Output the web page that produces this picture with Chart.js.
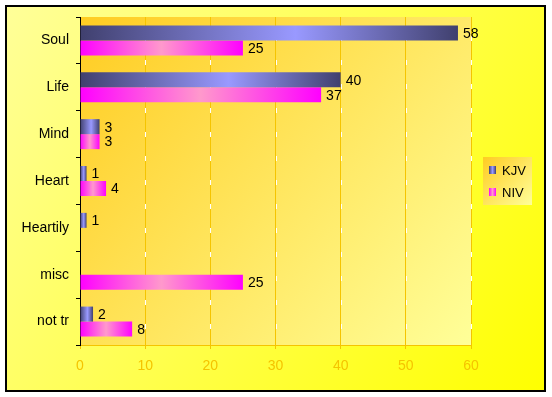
<!DOCTYPE html>
<html>
<head>
<meta charset="utf-8">
<script src="https://cdn.jsdelivr.net/npm/chart.js@4/dist/chart.umd.min.js"></script>
<style>
  html, body { margin: 0; padding: 0; background: #fff; }
  #wrap { width: 552px; height: 397px; }
</style>
</head>
<body>
<div id="wrap"><canvas id="chart" width="552" height="397"></canvas></div>
<script>
// Données du graphique
const categories = ['Soul', 'Life', 'Mind', 'Heart', 'Heartily', 'misc', 'not tr'];
const seriesNames = ['KJV', 'NIV'];
const kjvValues = [58, 40, 3, 1, 1, 0, 2];
const nivValues = [25, 37, 3, 4, 0, 25, 8];
const xTicks = [0, 10, 20, 30, 40, 50, 60];

const FONT = '"Liberation Sans", Arial, sans-serif';
const ORANGE = '#f5c400';

// Dégradé horizontal par barre : foncé - clair - foncé
function barGradient(context, dark, light, mid) {
    const chart = context.chart;
    const xScale = chart.scales.x;
    const value = context.raw;
    if (!xScale || !value) return dark;
    const x0 = xScale.getPixelForValue(0);
    const x1 = xScale.getPixelForValue(value);
    if (!isFinite(x0) || !isFinite(x1) || x1 - x0 < 1) return dark;
    const g = chart.ctx.createLinearGradient(x0, 0, x1, 0);
    g.addColorStop(0, dark);
    g.addColorStop(mid, light);
    g.addColorStop(1, dark);
    return g;
}

// Fonds : cadre jaune + zone de tracé orangée
const backgrounds = {
    id: 'backgrounds',
    beforeDraw(chart) {
        const ctx = chart.ctx;
        const w = chart.width, h = chart.height;
        const a = chart.chartArea;
        ctx.save();
        ctx.fillStyle = '#ffffff';
        ctx.fillRect(0, 0, w, h);
        const outer = ctx.createLinearGradient(6, 6, w - 7, h - 6);
        outer.addColorStop(0, '#ffff99');
        outer.addColorStop(1, '#ffff00');
        ctx.fillStyle = outer;
        ctx.fillRect(6, 6, w - 13, h - 12);
        if (a && isFinite(a.left) && isFinite(a.bottom)) {
            const inner = ctx.createLinearGradient(a.left, a.top, a.right, a.bottom);
            inner.addColorStop(0, '#ffcc22');
            inner.addColorStop(1, '#ffff99');
            ctx.fillStyle = inner;
            ctx.fillRect(a.left, a.top, a.right - a.left, a.bottom - a.top);
        }
        ctx.strokeStyle = '#000';
        ctx.lineWidth = 2;
        ctx.strokeRect(6, 6, w - 13, h - 12);
        ctx.restore();
    },
    beforeDatasetsDraw(chart) {
        // tirets blancs sur les lignes de grille verticales
        const ctx = chart.ctx;
        const a = chart.chartArea;
        const xScale = chart.scales.x;
        ctx.save();
        ctx.strokeStyle = '#ffffff';
        ctx.lineWidth = 1;
        ctx.setLineDash([5, 19]);
        ctx.lineDashOffset = 5;
        xScale.ticks.forEach(function(t) {
            if (t.value === 0) return;
            const x = Math.round(xScale.getPixelForValue(t.value)) + 0.5;
            ctx.beginPath();
            ctx.moveTo(x, a.top);
            ctx.lineTo(x, a.bottom);
            ctx.stroke();
        });
        ctx.restore();
    }
};

// Étiquettes de valeurs à droite des barres
const valueLabels = {
    id: 'valueLabels',
    afterDatasetsDraw(chart) {
        const ctx = chart.ctx;
        ctx.save();
        ctx.font = '14px ' + FONT;
        ctx.fillStyle = '#000';
        ctx.textBaseline = 'middle';
        ctx.textAlign = 'left';
        chart.data.datasets.forEach(function(ds, i) {
            chart.getDatasetMeta(i).data.forEach(function(bar, j) {
                const v = ds.data[j];
                if (!v) return;
                ctx.fillText(String(v), bar.x + 5, bar.y + 1);
            });
        });
        ctx.restore();
    }
};

// Légende dessinée à droite
const sideLegend = {
    id: 'sideLegend',
    afterDraw(chart) {
        const ctx = chart.ctx;
        const a = chart.chartArea;
        const boxW = 49, boxH = 48;
        const x = a.right + 12;
        const y = Math.round((a.top + a.bottom) / 2 - boxH / 2);
        ctx.save();
        const g = ctx.createLinearGradient(x, y, x + boxW, y + boxH);
        g.addColorStop(0, '#ffcc22');
        g.addColorStop(1, '#ffff99');
        ctx.fillStyle = g;
        ctx.fillRect(x, y, boxW, boxH);
        ctx.font = '13px ' + FONT;
        ctx.textBaseline = 'middle';
        ctx.textAlign = 'left';
        chart.data.datasets.forEach(function(ds, i) {
            const cy = y + 13 + i * 22;
            const mg = ctx.createLinearGradient(x + 6, 0, x + 13, 0);
            mg.addColorStop(0, ds.darkColor);
            mg.addColorStop(0.5, ds.lightColor);
            mg.addColorStop(1, ds.darkColor);
            ctx.fillStyle = mg;
            ctx.fillRect(x + 6, cy - 4, 7, 8);
            ctx.fillStyle = '#000';
            ctx.fillText(ds.label, x + 19, cy + 1);
        });
        ctx.restore();
    }
};

const chart = new Chart(document.getElementById('chart'), {
    type: 'bar',
    data: {
        labels: categories,
        datasets: [
            {
                label: seriesNames[0],
                data: kjvValues,
                darkColor: '#40406e',
                lightColor: '#9999ff',
                backgroundColor: function(c) { return barGradient(c, '#40406e', '#9999ff', 0.57); }
            },
            {
                label: seriesNames[1],
                data: nivValues,
                darkColor: '#ff00ff',
                lightColor: '#ff99cc',
                backgroundColor: function(c) { return barGradient(c, '#ff00ff', '#ff99cc', 0.5); }
            }
        ]
    },
    options: {
        indexAxis: 'y',
        responsive: false,
        animation: false,
        devicePixelRatio: 1,
        categoryPercentage: 0.64,
        barPercentage: 1,
        layout: { padding: { left: 6, top: 17, right: 81, bottom: 6 } },
        plugins: {
            legend: { display: false },
            tooltip: { enabled: false }
        },
        scales: {
            x: {
                min: xTicks[0],
                max: xTicks[xTicks.length - 1],
                afterFit: function(scale) { scale.height = 46; },
                afterBuildTicks: function(scale) {
                    scale.ticks = xTicks.map(function(v) { return { value: v }; });
                },
                ticks: {
                    color: ORANGE,
                    font: { family: FONT, size: 14 },
                    padding: 9
                },
                grid: {
                    color: function(c) { return c.tick && c.tick.value === 0 ? 'rgba(0,0,0,0)' : ORANGE; },
                    tickColor: ORANGE,
                    tickLength: 4,
                    lineWidth: 1
                },
                border: { color: ORANGE, width: 1 }
            },
            y: {
                afterFit: function(scale) { scale.width = 74; },
                ticks: {
                    color: '#000',
                    font: { family: FONT, size: 14 },
                    padding: 7
                },
                grid: {
                    drawOnChartArea: false,
                    color: '#000',
                    tickLength: 4,
                    offset: true
                },
                border: { color: '#000', width: 1 }
            }
        }
    },
    plugins: [backgrounds, valueLabels, sideLegend]
});
</script>
</body>
</html>
